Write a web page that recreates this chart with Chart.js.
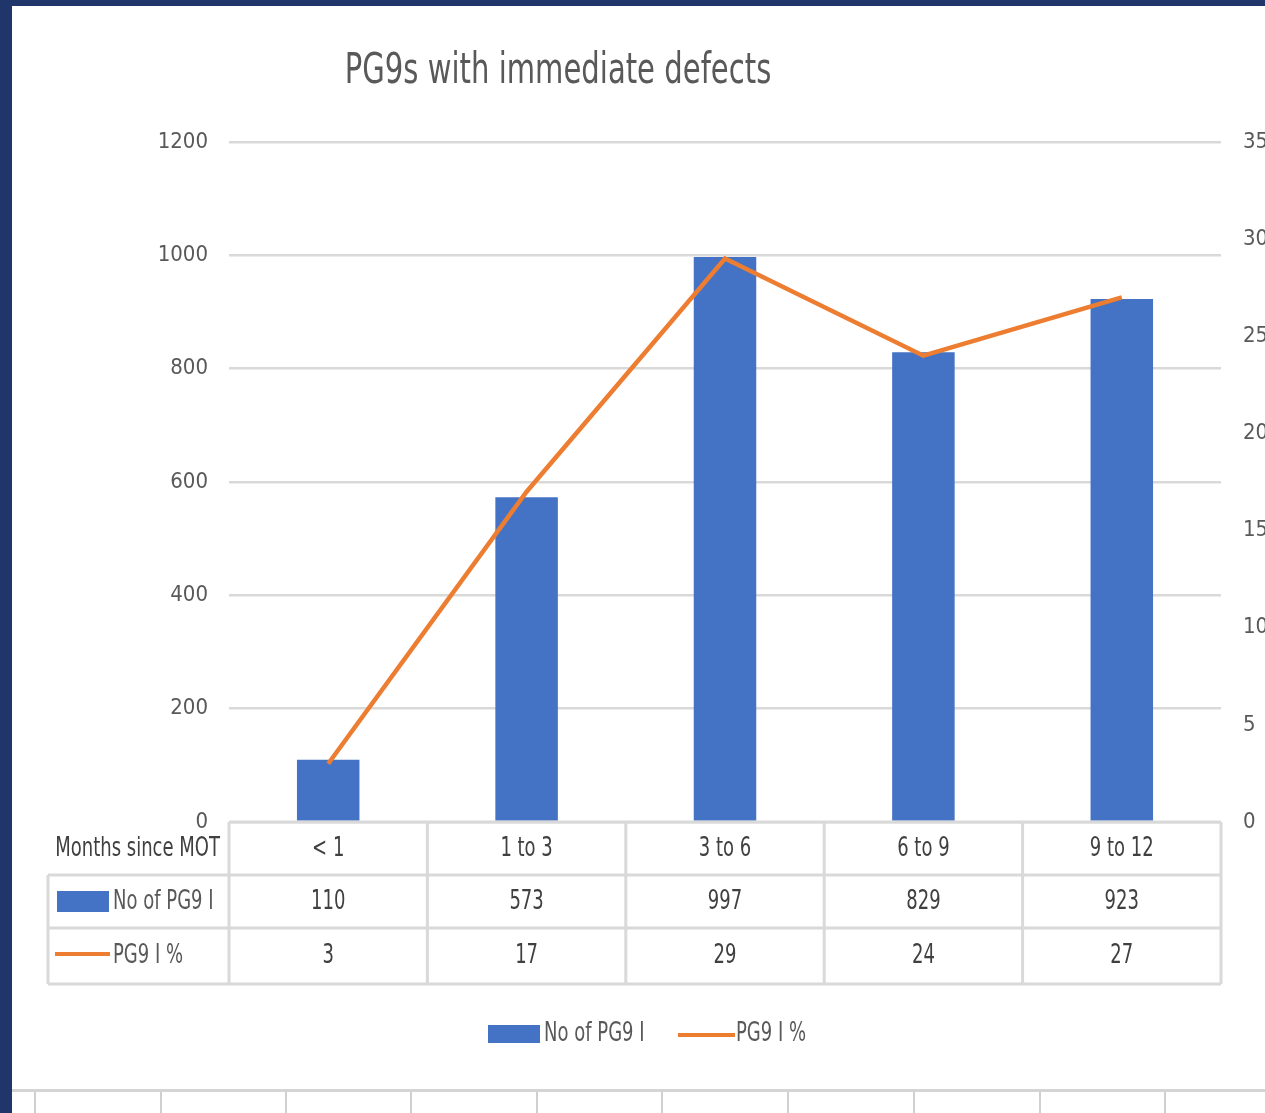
<!DOCTYPE html>
<html>
<head>
<meta charset="utf-8">
<script src="https://cdn.jsdelivr.net/npm/chart.js@4.4.0/dist/chart.umd.min.js"></script>
<style>
  html, body { margin: 0; padding: 0; background: #fff; }
  #wrap { width: 1265px; height: 1113px; }
</style>
</head>
<body>
<div id="wrap"><canvas id="chart" width="1265" height="1113"></canvas></div>
<script>
const categories = ["< 1", "1 to 3", "3 to 6", "6 to 9", "9 to 12"];
const pg9Counts = [110, 573, 997, 829, 923];
const pg9Percent = [3, 17, 29, 24, 27];
const countLabel = "No of PG9 I";
const percentLabel = "PG9 I %";
const tableHeader = "Months since MOT";

const FONT = "'DejaVu Sans Condensed', 'Liberation Sans Narrow', sans-serif";
const BLUE = "#4472C4";
const ORANGE = "#ED7D31";
const LINE_GRAY = "#d9d9d9";
const TEXT_DARK = "#404040";
const TEXT_GRAY = "#595959";
const SQUEEZE = 0.77;

// draw text squeezed horizontally, the original uses a narrow font
function narrowText(c, text, x, y, align) {
    c.save();
    c.translate(x, y);
    c.scale(SQUEEZE, 1);
    c.textAlign = align;
    c.fillText(text, 0, 0);
    c.restore();
}

// frame, title, data table, legend and the sheet grid below the chart
const extras = {
    id: "extras",
    beforeDraw(chart) {
        const c = chart.ctx;
        c.save();
        c.fillStyle = "#ffffff";
        c.fillRect(0, 0, chart.width, chart.height);
        c.fillStyle = "#203569";
        c.fillRect(0, 0, 12, chart.height);
        c.fillRect(0, 0, chart.width, 6);

        // sheet grid
        c.fillStyle = "#d4d4d4";
        c.fillRect(12, 1089, chart.width, 3);
        c.fillStyle = "#d0d0d0";
        [34, 160, 285, 410, 536, 661, 787, 913, 1039, 1164].forEach(x => c.fillRect(x, 1092, 2, 30));

        // title
        c.fillStyle = TEXT_GRAY;
        c.font = "42px " + FONT;
        c.textBaseline = "middle";
        narrowText(c, "PG9s with immediate defects", 558, 72, "center");
        c.restore();
    },
    afterDraw(chart) {
        const c = chart.ctx;
        const x = chart.scales.x;
        const area = chart.chartArea;
        const left = area.left, right = area.right;
        const rows = [area.bottom, 875, 928, 984];
        const headLeft = 48;
        const n = categories.length;
        const step = (x.getPixelForValue(1) - x.getPixelForValue(0));
        const edges = [];
        for (let i = 0; i <= n; i++) edges.push(x.getPixelForValue(0) - step / 2 + i * step);

        c.save();
        c.strokeStyle = LINE_GRAY;
        c.lineWidth = 3;
        c.beginPath();
        c.moveTo(left, rows[0]); c.lineTo(right, rows[0]);
        for (let r = 1; r < rows.length; r++) { c.moveTo(headLeft, rows[r]); c.lineTo(right, rows[r]); }
        edges.forEach(e => { c.moveTo(e, rows[0]); c.lineTo(e, rows[3]); });
        c.moveTo(headLeft, rows[1]); c.lineTo(headLeft, rows[3]);
        c.stroke();

        c.font = "26px " + FONT;
        c.textBaseline = "middle";
        c.fillStyle = TEXT_DARK;
        const mids = [(rows[0] + rows[1]) / 2 + 1, (rows[1] + rows[2]) / 2 + 1, (rows[2] + rows[3]) / 2];
        categories.forEach((cat, i) => {
            const cx = x.getPixelForValue(i);
            narrowText(c, cat, cx, mids[0], "center");
            narrowText(c, String(pg9Counts[i]), cx, mids[1], "center");
            narrowText(c, String(pg9Percent[i]), cx, mids[2], "center");
        });
        narrowText(c, tableHeader, 220, mids[0], "right");

        c.fillStyle = BLUE;
        c.fillRect(57, 891, 52, 21);
        c.fillStyle = ORANGE;
        c.fillRect(55, 952, 55, 4);
        c.fillStyle = TEXT_GRAY;
        narrowText(c, countLabel, 113, mids[1], "left");
        narrowText(c, percentLabel, 113, mids[2], "left");

        // legend
        c.fillStyle = BLUE;
        c.fillRect(488, 1025, 52, 18);
        c.fillStyle = ORANGE;
        c.fillRect(678, 1033, 57, 4);
        c.fillStyle = TEXT_GRAY;
        narrowText(c, countLabel, 544, 1034, "left");
        narrowText(c, percentLabel, 736, 1034, "left");
        c.restore();
    }
};

new Chart(document.getElementById("chart"), {
    data: {
        labels: categories,
        datasets: [
            {
                type: "line",
                label: percentLabel,
                data: pg9Percent,
                yAxisID: "y1",
                borderColor: ORANGE,
                borderWidth: 4.5,
                pointRadius: 0,
                tension: 0,
                order: 0
            },
            {
                type: "bar",
                label: countLabel,
                data: pg9Counts,
                yAxisID: "y",
                backgroundColor: BLUE,
                barPercentage: 0.315,
                categoryPercentage: 1,
                order: 1
            }
        ]
    },
    options: {
        responsive: false,
        animation: false,
        layout: { padding: { top: 142, bottom: 291, left: 0, right: 0 } },
        plugins: {
            legend: { display: false },
            title: { display: false },
            tooltip: { enabled: false }
        },
        scales: {
            x: { display: false },
            y: {
                position: "left",
                min: 0, max: 1200,
                ticks: { stepSize: 200, padding: 21, color: TEXT_GRAY, font: { family: FONT, size: 22 },
                         callback: v => String(v) },
                grid: { color: LINE_GRAY, lineWidth: 2.5, drawTicks: false },
                border: { display: false },
                afterFit(s) { s.width = 229; }
            },
            y1: {
                position: "right",
                min: 0, max: 35,
                ticks: { stepSize: 5, padding: 22, color: TEXT_GRAY, font: { family: FONT, size: 22 },
                         callback: v => String(v) },
                grid: { display: false, drawTicks: false },
                border: { display: false },
                afterFit(s) { s.width = 44; }
            }
        }
    },
    plugins: [extras]
});
</script>
</body>
</html>
